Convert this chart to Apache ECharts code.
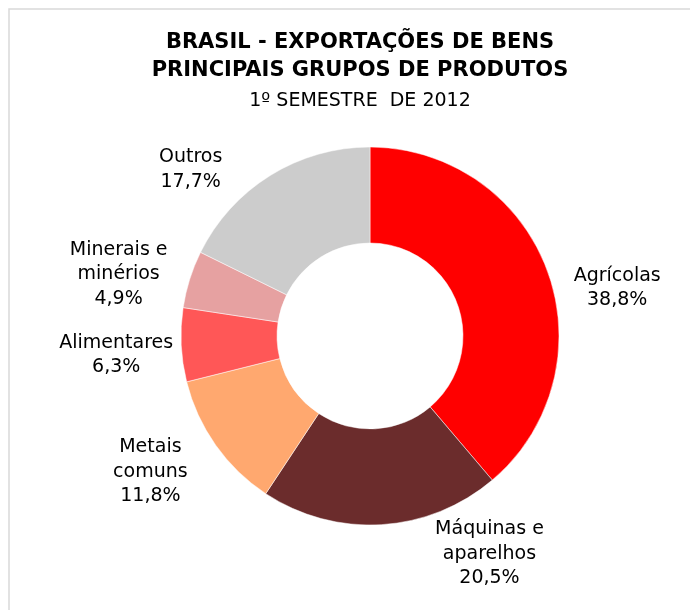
<!DOCTYPE html>
<html>
<head>
<meta charset="utf-8">
<script src="https://cdn.jsdelivr.net/npm/echarts@6/dist/echarts.min.js"></script>
<style>html,body{margin:0;padding:0;background:#fff;}#c{width:690px;height:610px;}</style>
</head>
<body>
<div id="c"></div>
<script>
const categories = ['Agrícolas', 'Máquinas e\naparelhos', 'Metais\ncomuns', 'Alimentares', 'Minerais e\nminérios', 'Outros'];
const shares = [38.8, 20.5, 11.8, 6.3, 4.9, 17.7];
const colors = ['#FF0000', '#6B2C2C', '#FFA86F', '#FF5757', '#E6A1A1', '#CCCCCC'];
// label offsets (styling only)
const labelShift = [[51, 24], [107, 9], [-49, 15], [-45, 9], [-52, 1], [-69, 11]];

const chart = echarts.init(document.getElementById('c'), null, {renderer: 'canvas'});
chart.setOption({
  animation: false,
  backgroundColor: '#fff',
  graphic: [{
    type: 'rect', shape: {x: 9, y: 9, width: 720, height: 720},
    style: {fill: 'none', stroke: '#d9d9d9', lineWidth: 1.5}, silent: true
  }],
  title: {
    text: 'BRASIL - EXPORTAÇÕES DE BENS\nPRINCIPAIS GRUPOS DE PRODUTOS',
    subtext: '1º SEMESTRE  DE 2012',
    left: 355, top: 24, textAlign: 'center', itemGap: 5,
    textStyle: {fontFamily: 'DejaVu Sans', fontSize: 21, fontWeight: 'bold', color: '#000', lineHeight: 28},
    subtextStyle: {fontFamily: 'DejaVu Sans', fontSize: 19, color: '#000', lineHeight: 22}
  },
  series: [{
    type: 'pie',
    center: [370, 336],
    radius: [93, 189],
    startAngle: 90,
    clockwise: true,
    avoidLabelOverlap: false,
    itemStyle: {borderColor: '#fff', borderWidth: 0.5},
    label: {
      show: true, position: 'outside', distanceToLabelLine: 0,
      fontFamily: 'DejaVu Sans', fontSize: 19, lineHeight: 24.5, color: '#000',
      formatter: p => p.name + '\n' + p.value.toFixed(1).replace('.', ',') + '%'
    },
    labelLine: {show: false, length: 20, length2: 0},
    labelLayout: p => ({align: 'center', verticalAlign: 'middle', dx: labelShift[p.dataIndex][0], dy: labelShift[p.dataIndex][1]}),
    emphasis: {disabled: true},
    data: categories.map((n, i) => ({name: n, value: shares[i], itemStyle: {color: colors[i]}}))
  }]
});
</script>
</body>
</html>
